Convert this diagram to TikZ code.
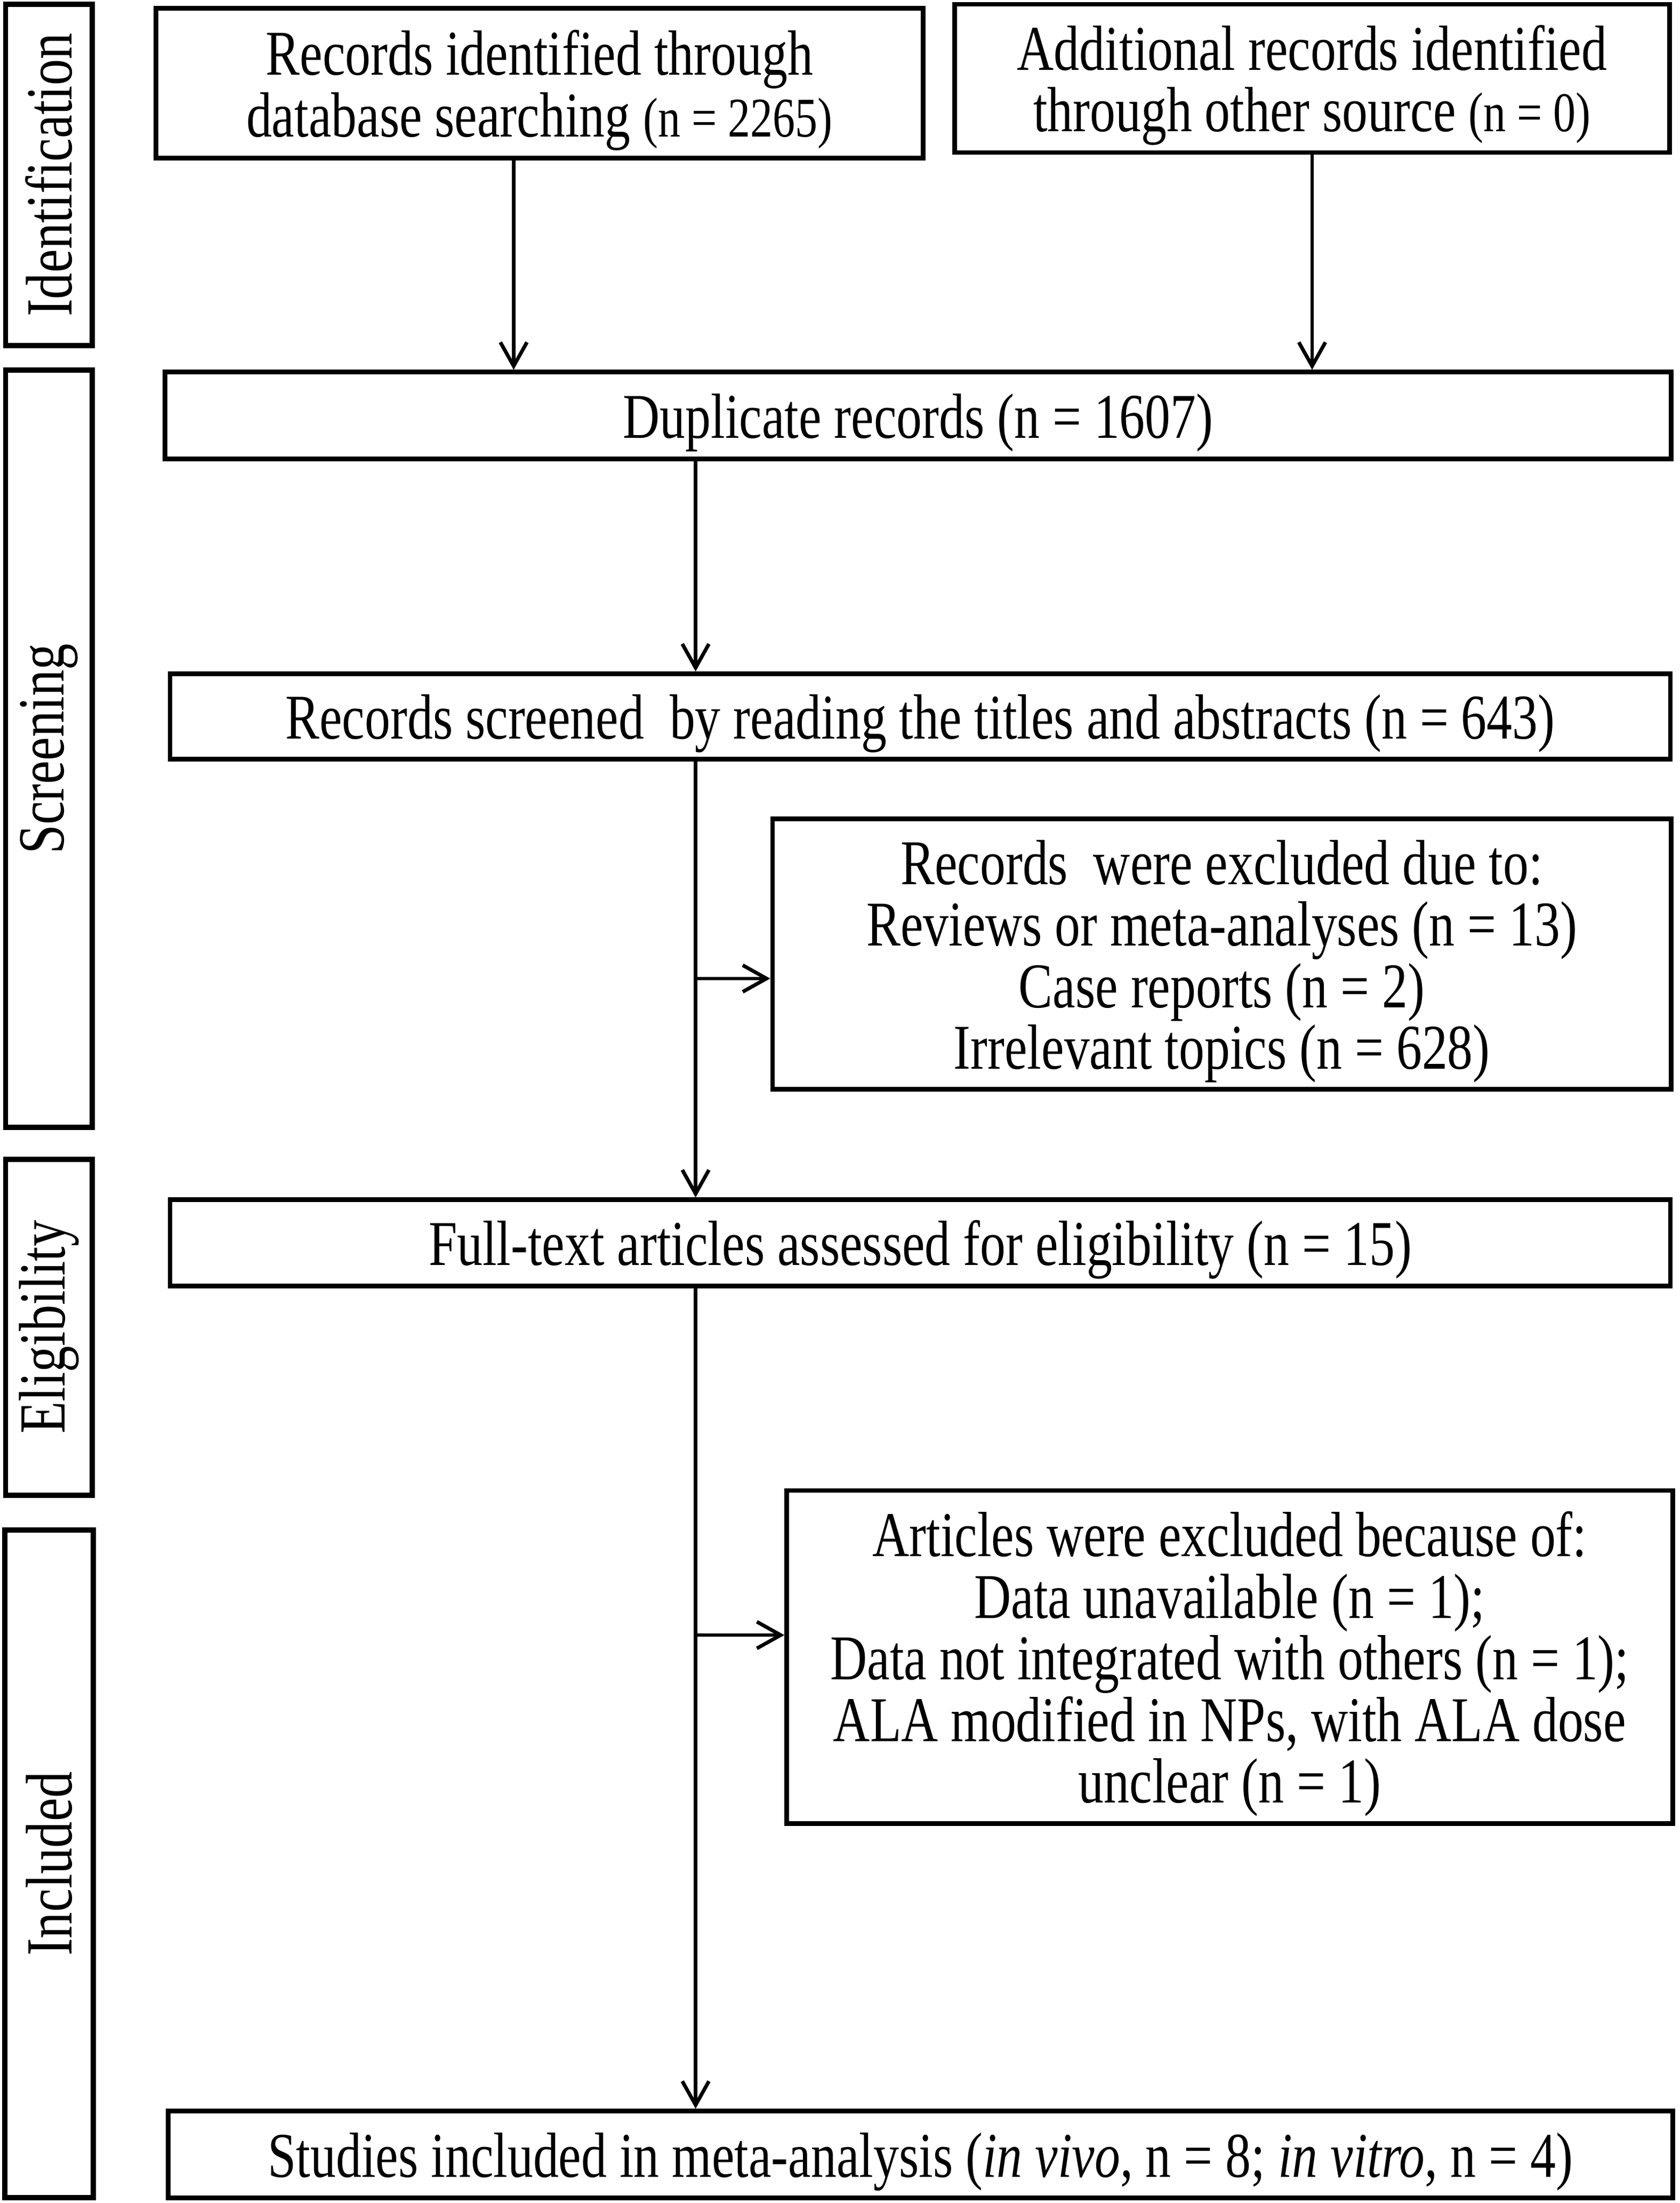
\documentclass[tikz,border=0pt]{standalone}
\usepackage{fontspec}
\newfontfamily\tnr{Liberation Serif}[FakeStretch=0.8]
\usetikzlibrary{arrows.meta}
\tikzset{
	box/.style={draw, line width=3.3pt, rectangle, align=center, inner sep=0pt, font=\tnr\fontsize{45.6}{44}\selectfont},
	stage/.style={draw, line width=3.8pt, rectangle, inner sep=0pt, rotate=90, font=\tnr\fontsize{47}{50}\selectfont},
	arr/.style={line width=2.6pt, -{Straight Barb[length=17pt,width=19pt]}},
}
\newcommand{\smalln}[1]{{\fontsize{40}{44}\selectfont #1}}
\newcommand{\lift}{\rule{0pt}{42pt}}

\begin{document}
\begin{tikzpicture}[x=1pt, y=-1pt]
			%%%%% START %%%%%
			
			\useasboundingbox (0, 0) rectangle (1200, 1573.7);
			
			% stages
			\node[stage, minimum width=244, minimum height=62] (ident) at (35, 125) {Identification};
			\node[stage, minimum width=541, minimum height=62] (screen) at (35, 535) {Screening};
			\node[stage, minimum width=240, minimum height=62] (elig) at (35, 948) {Eligibility};
			\node[stage, minimum width=477, minimum height=63] (incl) at (35, 1331.5) {Included};
			
			% identification
			\node[box, minimum width=548, minimum height=107] (db) at (385.5, 59.5) {\lift Records identified through\\database searching \smalln{(n = 2265)}};
			\node[box, minimum width=511, minimum height=106] (other) at (937.5, 56) {\lift Additional records identified\\through other source \smalln{(n = 0)}};
			
			% screening
			\node[box, minimum width=1076, minimum height=62] (dup) at (656, 296.8) {\lift Duplicate records (n = 1607)};
			\node[box, minimum width=1072, minimum height=61] (screened) at (657.5, 511.8) {\lift Records screened\ \ by reading the titles and abstracts (n = 643)};
			\node[box, minimum width=642, minimum height=193] (recexcl) at (873, 681.5) {\lift Records\ \ were excluded due to:\\Reviews or meta-analyses (n = 13)\\Case reports (n = 2)\\Irrelevant topics (n = 628)};
			
			% eligibility
			\node[box, minimum width=1072, minimum height=61.5] (fulltext) at (657.5, 887.8) {\lift Full-text articles assessed for eligibility (n = 15)};
			\node[box, minimum width=633, minimum height=238] (artexcl) at (878.6, 1183.7) {\lift Articles were excluded because of:\\Data unavailable (n = 1);\\Data not integrated with others (n = 1);\\ALA modified in NPs, with ALA dose\\unclear (n = 1)};
			
			% included
			\node[box, minimum width=1075, minimum height=62] (studies) at (657.7, 1539) {\lift Studies included in meta-analysis (\textit{in vivo}, n = 8; \textit{in vitro}, n = 4)};
			
			% arrows
			\coordinate (spine) at (497, 0);
			\coordinate (fork1) at (497, 699);
			\coordinate (fork2) at (497, 1168);
			
			\draw[arr] ([xshift=-18.5pt]db.south) -- ([xshift=-18.5pt]db.south |- dup.north);
			\draw[arr] (other.south) -- (other.south |- dup.north);
			\draw[arr] (spine |- dup.south) -- (spine |- screened.north);
			\draw[arr] (spine |- screened.south) -- (spine |- fulltext.north);
			\draw[arr] (fork1) -- (fork1 -| recexcl.west);
			\draw[arr] (spine |- fulltext.south) -- (spine |- studies.north);
			\draw[arr] (fork2) -- (fork2 -| artexcl.west);
			
			%%%%% END %%%%%
\end{tikzpicture}
\end{document}
